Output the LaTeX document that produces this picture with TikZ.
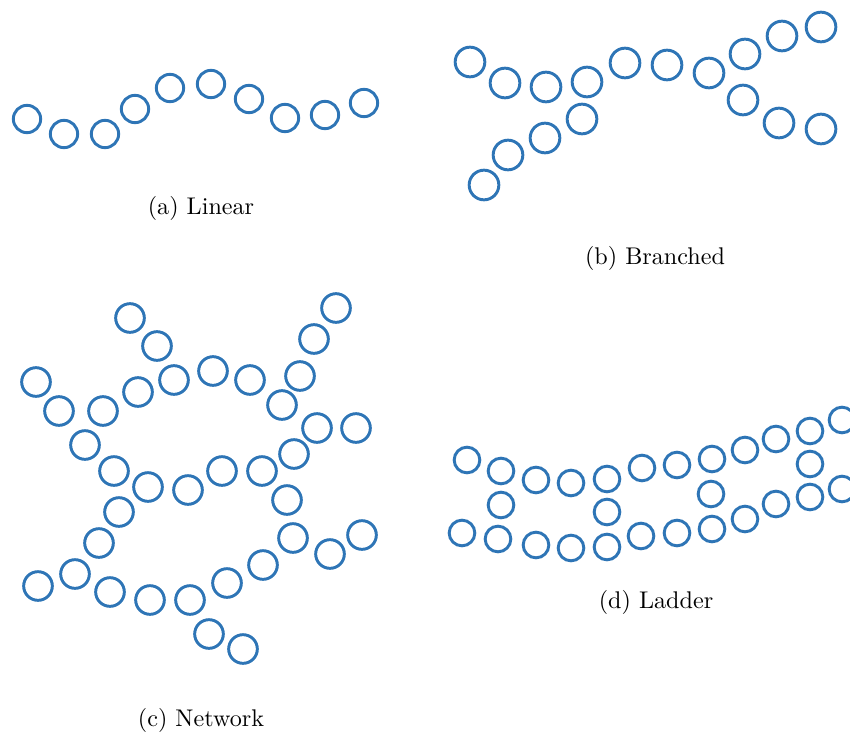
\documentclass[tikz,border=0pt]{standalone}
\usepackage{tikz}
\usetikzlibrary{positioning}
\definecolor{beadblue}{RGB}{46,117,182}

\begin{document}
\begin{tikzpicture}[
            x=0.015cm, y=-0.015cm,
            bead/.style={circle, draw=beadblue, line width=1.25pt, minimum size=0.41cm, inner sep=0pt},
            bigbead/.style={bead, minimum size=0.445cm},
            midbead/.style={bead, minimum size=0.43cm},
            smallbead/.style={bead, minimum size=0.385cm},
            caption/.style={inner sep=0pt, font=\fontsize{10.3}{12}\selectfont}
        ]
\useasboundingbox (0,0) rectangle (850,736);
\clip (0,0) rectangle (850,736);

% (a) linear
            \node[bead] (a1) at (27,119) {};
            \node[bead] (a2) at (64,134) {};
            \node[bead] (a3) at (105,134) {};
            \node[bead] (a4) at (135,109) {};
            \node[bead] (a5) at (170,88) {};
            \node[bead] (a6) at (211,84) {};
            \node[bead] (a7) at (249,99) {};
            \node[bead] (a8) at (285,118) {};
            \node[bead] (a9) at (325,115) {};
            \node[bead] (a10) at (364,103) {};

% (b) branched
            \node[bigbead] (b1) at (470,62) {};
            \node[bigbead] (b2) at (505,83) {};
            \node[bigbead] (b3) at (546,87) {};
            \node[bigbead] (b4) at (587,82) {};
            \node[bigbead] (b5) at (625,63) {};
            \node[bigbead] (b6) at (667,65) {};
            \node[bigbead] (b7) at (709,73) {};
            \node[bigbead] (b8) at (745,54) {};
            \node[bigbead] (b9) at (782,36) {};
            \node[bigbead] (b10) at (821,27) {};
            \node[bigbead] (b11) at (743,100) {};
            \node[bigbead] (b12) at (779,123) {};
            \node[bigbead] (b13) at (821,129) {};
            \node[bigbead] (b14) at (582,119) {};
            \node[bigbead] (b15) at (545,138) {};
            \node[bigbead] (b16) at (508,155) {};
            \node[bigbead] (b17) at (484,185) {};

% (c) network
            \node[midbead] (c1) at (130,318) {};
            \node[midbead] (c2) at (157,346) {};
            \node[midbead] (c3) at (336,308) {};
            \node[midbead] (c4) at (314,339) {};
            \node[midbead] (c5) at (36,382) {};
            \node[midbead] (c6) at (59,411) {};
            \node[midbead] (c7) at (103,411) {};
            \node[midbead] (c8) at (138,392) {};
            \node[midbead] (c9) at (174,380) {};
            \node[midbead] (c10) at (213,371) {};
            \node[midbead] (c11) at (250,380) {};
            \node[midbead] (c12) at (300,376) {};
            \node[midbead] (c13) at (282,405) {};
            \node[midbead] (c14) at (317,428) {};
            \node[midbead] (c15) at (356,428) {};
            \node[midbead] (c16) at (85,445) {};
            \node[midbead] (c17) at (114,471) {};
            \node[midbead] (c18) at (148,487) {};
            \node[midbead] (c19) at (188,490) {};
            \node[midbead] (c20) at (222,471) {};
            \node[midbead] (c21) at (262,471) {};
            \node[midbead] (c22) at (294,454) {};
            \node[midbead] (c23) at (287,500) {};
            \node[midbead] (c24) at (119,512) {};
            \node[midbead] (c25) at (99,543) {};
            \node[midbead] (c26) at (75,574) {};
            \node[midbead] (c27) at (38,586) {};
            \node[midbead] (c28) at (110,592) {};
            \node[midbead] (c29) at (150,600) {};
            \node[midbead] (c30) at (190,600) {};
            \node[midbead] (c31) at (227,583) {};
            \node[midbead] (c32) at (263,565) {};
            \node[midbead] (c33) at (293,538) {};
            \node[midbead] (c34) at (330,554) {};
            \node[midbead] (c35) at (362,535) {};
            \node[midbead] (c36) at (209,634) {};
            \node[midbead] (c37) at (243,649) {};

% (d) ladder, upper rail
            \node[smallbead] (d1) at (467,460) {};
            \node[smallbead] (d2) at (501,471) {};
            \node[smallbead] (d3) at (536,480) {};
            \node[smallbead] (d4) at (571,483) {};
            \node[smallbead] (d5) at (607,479) {};
            \node[smallbead] (d6) at (642,468) {};
            \node[smallbead] (d7) at (677,465) {};
            \node[smallbead] (d8) at (712,459) {};
            \node[smallbead] (d9) at (745,450) {};
            \node[smallbead] (d10) at (776,439) {};
            \node[smallbead] (d11) at (810,431) {};
            \node[smallbead] (d12) at (842,420) {};

% (d) ladder, rungs
            \node[smallbead] (r1) at (501,505) {};
            \node[smallbead] (r2) at (607,512) {};
            \node[smallbead] (r3) at (711,494) {};
            \node[smallbead] (r4) at (810,464) {};

% (d) ladder, lower rail
            \node[smallbead] (e1) at (462,533) {};
            \node[smallbead] (e2) at (498,539) {};
            \node[smallbead] (e3) at (536,545) {};
            \node[smallbead] (e4) at (571,548) {};
            \node[smallbead] (e5) at (607,547) {};
            \node[smallbead] (e6) at (641,536) {};
            \node[smallbead] (e7) at (677,533) {};
            \node[smallbead] (e8) at (712,529) {};
            \node[smallbead] (e9) at (745,519) {};
            \node[smallbead] (e10) at (776,504) {};
            \node[smallbead] (e11) at (810,497) {};
            \node[smallbead] (e12) at (842,489) {};

% captions
            \node[caption] (capa) at (201,208) {(a) Linear};
            \node[caption] (capb) at (655,258) {(b) Branched};
            \node[caption] (capc) at (201,720) {(c) Network};
            \node[caption] (capd) at (656,602) {(d) Ladder};

        \end{tikzpicture}
\end{document}
